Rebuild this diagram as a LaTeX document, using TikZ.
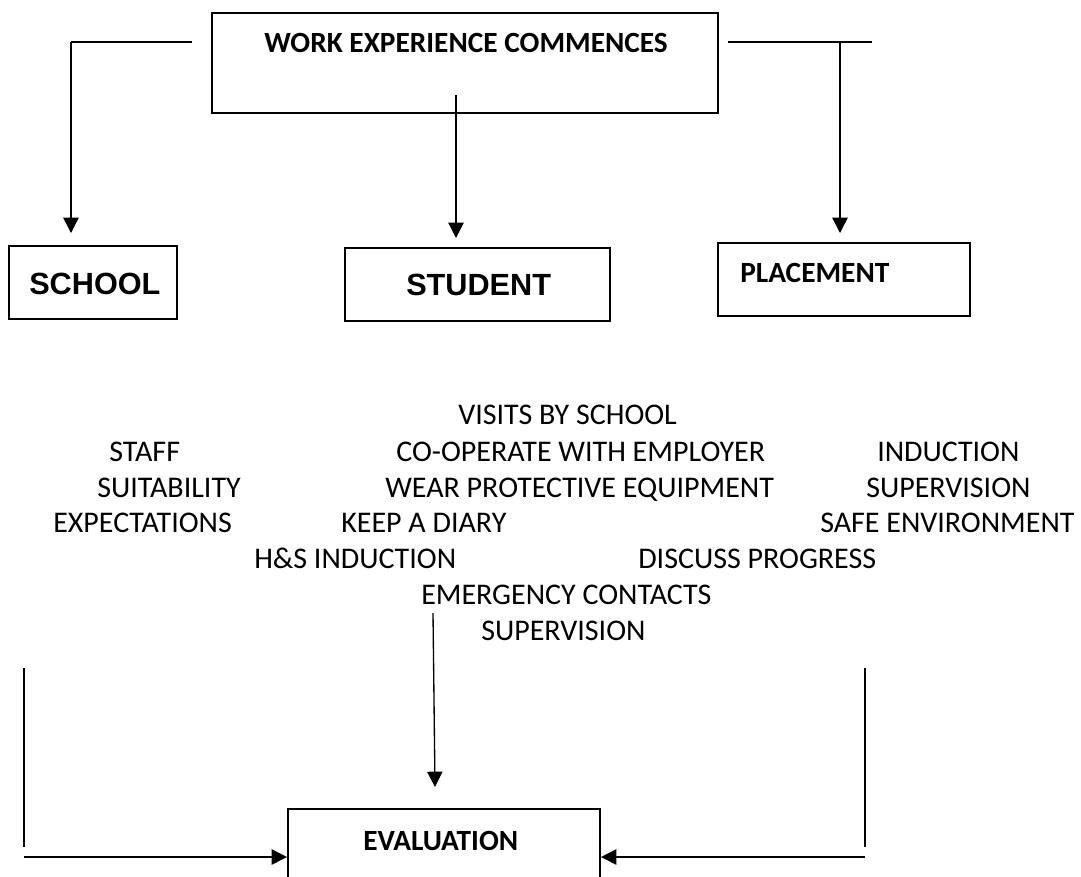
\documentclass[tikz,border=0pt]{standalone}
\usepackage{fontspec}
\setmainfont{Carlito}
\newfontfamily\arialf{Liberation Sans}
\usetikzlibrary{arrows.meta}
\begin{document}
\begin{tikzpicture}[x=0.75pt,y=-0.75pt,
  box/.style={draw,line width=1.5pt,inner sep=0pt},
  lbl/.style={anchor=base west,inner sep=0pt,font=\fontsize{22.5}{27}\selectfont},
  blbl/.style={anchor=base west,inner sep=0pt,font=\fontsize{22}{27}\selectfont\bfseries},
  albl/.style={anchor=base west,inner sep=0pt,font=\arialf\fontsize{23}{28}\selectfont\bfseries},
  conn/.style={line width=1pt},
  arr/.style={line width=1pt,-{Triangle[length=11.5pt,width=11.5pt]}}]
\clip (0,0) rectangle (1081,876);
\fill[white] (0,0) rectangle (1081,876);
% boxes
\node[box,minimum width=379.5pt,minimum height=75pt] (top) at (465,63) {};
\node[box,minimum width=126pt,minimum height=54.75pt] (school) at (93,282.5) {};
\node[box,minimum width=198.75pt,minimum height=54.75pt] (student) at (477.5,284.5) {};
\node[box,minimum width=189pt,minimum height=54.75pt] (placement) at (844,279.5) {};
\node[box,minimum width=234pt,minimum height=72pt] (eval) at (444,857) {};
% box labels
\node[blbl] (ttop) at (264,52) {WORK EXPERIENCE COMMENCES};
\node[albl] (tschool) at (29,294) {SCHOOL};
\node[albl] (tstudent) at (406,295) {STUDENT};
\node[blbl] (tplacement) at (740,282) {PLACEMENT};
\node[blbl] (teval) at (363,850) {EVALUATION};
% list texts
\node[lbl] (v1) at (458,424) {VISITS BY SCHOOL};
\node[lbl] (a1) at (109,461) {STAFF};
\node[lbl] (b1) at (396,461) {CO-OPERATE WITH EMPLOYER};
\node[lbl] (c1) at (877,461) {INDUCTION};
\node[lbl] (a2) at (97,497) {SUITABILITY};
\node[lbl] (b2) at (385,497) {WEAR PROTECTIVE EQUIPMENT};
\node[lbl] (c2) at (866,497) {SUPERVISION};
\node[lbl] (a3) at (53,532) {EXPECTATIONS};
\node[lbl] (b3) at (341,532) {KEEP A DIARY};
\node[lbl] (c3) at (820,532) {SAFE ENVIRONMENT};
\node[lbl] (d1) at (254,568) {H\&S INDUCTION};
\node[lbl] (d2) at (638,568) {DISCUSS PROGRESS};
\node[lbl] (e1) at (421,604) {EMERGENCY CONTACTS};
\node[lbl] (e2) at (481,640) {SUPERVISION};
% coordinates for free ends
\coordinate (lstart) at (192,42);
\coordinate (lcorner) at (71,42);
\coordinate (ltip) at (71,233);
\coordinate (mstart) at (456,95);
\coordinate (mtip) at (456,238);
\coordinate (rstart) at (728,42);
\coordinate (rend) at (872,42);
\coordinate (rcorner) at (840,42);
\coordinate (rtip) at (840,233);
\coordinate (bstart) at (433,613);
\coordinate (btip) at (435,787);
\coordinate (lvtop) at (24,668);
\coordinate (lvbot) at (24,847);
\coordinate (lhstart) at (24,857);
\coordinate (rvtop) at (865,668);
\coordinate (rvbot) at (865,847);
\coordinate (rhstart) at (865,857);
% connectors
\draw[conn] (lstart) -- (lcorner);
\draw[arr] (lcorner) -- (ltip);
\draw[arr] (mstart) -- (mtip);
\draw[conn] (rstart) -- (rend);
\draw[arr] (rcorner) -- (rtip);
\draw[arr] (bstart) -- (btip);
\draw[conn] (lvtop) -- (lvbot);
\draw[arr] (lhstart) -- (eval.west);
\draw[conn] (rvtop) -- (rvbot);
\draw[arr] (rhstart) -- (eval.east);
\end{tikzpicture}
\end{document}
